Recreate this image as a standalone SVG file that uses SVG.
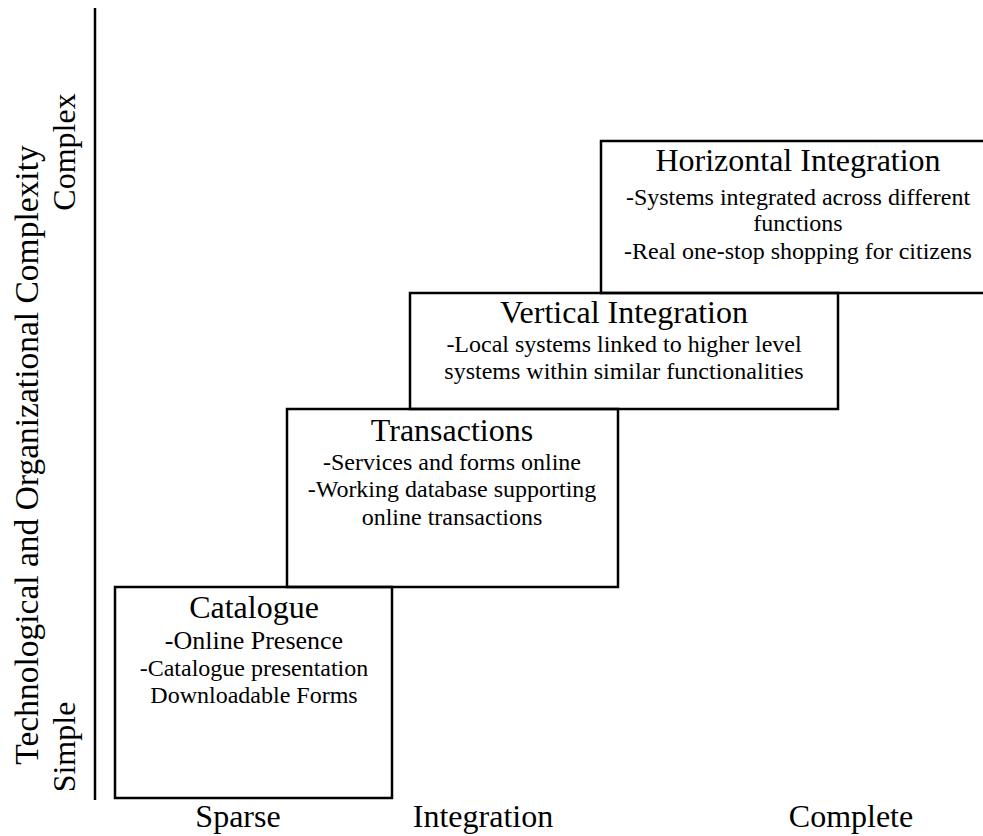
<svg xmlns="http://www.w3.org/2000/svg" width="983" height="836" viewBox="0 0 983 836" font-family="'Liberation Serif', 'Times New Roman', Tinos, 'DejaVu Serif', serif">
<style>
text{font-family:'Liberation Serif','Times New Roman',Tinos,'DejaVu Serif',serif;fill:#000;text-anchor:middle}
.t{font-size:32px}
.b{font-size:24px}
.ax{font-size:32px}
.box{fill:none;stroke:#000;stroke-width:2.5}
.axis{stroke:#000;stroke-width:2.5}
</style>
<rect width="983" height="836" fill="#fff"/>
<g id="axes">
<line class="axis" x1="95" y1="8" x2="95" y2="800"/>
<text class="ax" style="font-size:33.5px" transform="translate(38,455) rotate(-90)">Technological and Organizational Complexity</text>
<text class="ax" transform="translate(75,152) rotate(-90)">Complex</text>
<text class="ax" transform="translate(75,747) rotate(-90)">Simple</text>
<text class="ax" x="238" y="827">Sparse</text>
<text class="ax" x="483" y="827">Integration</text>
<text class="ax" x="851" y="827">Complete</text>
</g>
<g id="catalogue">
<rect class="box" x="115" y="587" width="277" height="211"/>
<text class="t" x="254" y="618">Catalogue</text>
<text class="b" x="254" y="649" style="font-size:26px">-Online Presence</text>
<text class="b" x="254" y="676">-Catalogue presentation</text>
<text class="b" x="254" y="703">Downloadable Forms</text>
</g>
<g id="transactions">
<rect class="box" x="287" y="409" width="331" height="178"/>
<text class="t" x="452" y="441">Transactions</text>
<text class="b" x="452" y="470">-Services and forms online</text>
<text class="b" x="452" y="497">-Working database supporting</text>
<text class="b" x="452" y="525">online transactions</text>
</g>
<g id="vertical">
<rect class="box" x="410" y="293" width="428" height="116"/>
<text class="t" x="624" y="323">Vertical Integration</text>
<text class="b" x="624" y="352">-Local systems linked to higher level</text>
<text class="b" x="624" y="379">systems within similar functionalities</text>
</g>
<g id="horizontal">
<rect class="box" x="601" y="141" width="395" height="152"/>
<text class="t" x="798" y="171">Horizontal Integration</text>
<text class="b" x="798" y="205">-Systems integrated across different</text>
<text class="b" x="798" y="231">functions</text>
<text class="b" x="798" y="259">-Real one-stop shopping for citizens</text>
</g>
<g id="connectors"></g>
</svg>
